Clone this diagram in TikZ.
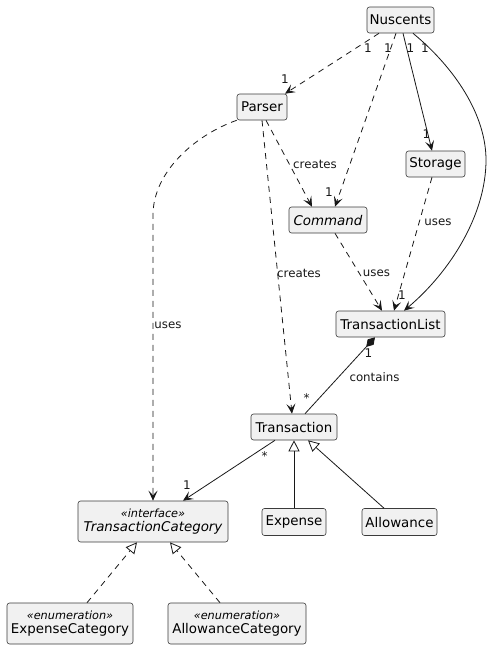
\documentclass[tikz,border=0pt]{standalone}
\usepackage{fontspec}
\setmainfont{DejaVu Sans}
\usetikzlibrary{arrows.meta}
\definecolor{boxfill}{HTML}{F1F1F1}
\definecolor{ink}{HTML}{181818}
\newcommand\sterfont{\fontsize{11.3}{12}\selectfont\itshape}
\tikzset{
  cls/.style={draw=ink!85, fill=boxfill, rounded corners=2.5pt, line width=0.6pt,
    inner sep=0pt, align=center, font=\fontsize{13.4}{15}\selectfont},
  conn/.style={draw=ink, line width=0.8pt},
  dsh/.style={conn, dash pattern=on 6pt off 5pt},
  arr/.style={-{Stealth[length=10pt,width=9pt,inset=4.5pt]}},
  inh/.style={-{Triangle[open,length=11pt,width=11pt,fill=white]}},
  comp/.style={{Diamond[length=13pt,width=8pt]}-},
  lbl/.style={inner sep=0pt, font=\fontsize{11.8}{13}\selectfont, text=ink},
  mul/.style={inner sep=0pt, font=\fontsize{12}{13}\selectfont, text=ink}
}
\begin{document}
\begin{tikzpicture}[x=1pt,y=-1pt]
\useasboundingbox (0,0) rectangle (499,649);
% classes
\node[cls, minimum width=67pt, minimum height=26pt] (nus) at (400.5,20) {Nuscents};
\node[cls, minimum width=50pt, minimum height=26pt] (parser) at (262,107) {Parser};
\node[cls, minimum width=59pt, minimum height=26pt] (storage) at (435.5,164) {Storage};
\node[cls, minimum width=78pt, minimum height=26pt] (command) at (328,220) {\itshape Command};
\node[cls, minimum width=109pt, minimum height=26pt] (tlist) at (390.5,324) {TransactionList};
\node[cls, minimum width=86pt, minimum height=26pt] (trans) at (294,427) {Transaction};
\node[cls, minimum width=150pt, minimum height=41pt] (tcat) at (153,521.5)
  {{\sterfont «interface»}\\[-1pt]\itshape TransactionCategory};
\node[cls, minimum width=64pt, minimum height=27pt] (expense) at (294,522) {Expense};
\node[cls, minimum width=75pt, minimum height=27pt] (allow) at (399.5,522) {Allowance};
\node[cls, minimum width=126pt, minimum height=41pt] (ecat) at (70,623.5)
  {{\sterfont «enumeration»}\\[-1pt]ExpenseCategory};
\node[cls, minimum width=138pt, minimum height=41pt] (acat) at (237,623.5)
  {{\sterfont «enumeration»}\\[-1pt]AllowanceCategory};
\coordinate (bend) at (486,160);
\coordinate (pbend) at (153,215);
% connectors
\draw[dsh, arr] ([xshift=-21.5pt]nus.south) -- ([xshift=23pt]parser.north);
\draw[dsh, arr] ([xshift=-4.5pt]nus.south) -- ([xshift=7pt]command.north);
\draw[conn, arr] ([xshift=2.5pt]nus.south) -- ([xshift=-3.5pt]storage.north);
\draw[conn, arr] ([xshift=12.5pt]nus.south) .. controls (455,68) and (486,115) .. (bend)
   .. controls (486,215) and (450,272) .. ([xshift=13.5pt]tlist.north);
\draw[dsh, arr] ([xshift=4pt]parser.south) -- ([xshift=-16pt]command.north);
\draw[dsh, arr] (parser.south) -- ([xshift=-2pt]trans.north);
\draw[dsh, arr] (parser.south west) .. controls (195,135) and (153,172) .. (pbend) -- (tcat.north);
\draw[dsh, arr] ([xshift=-3.5pt]storage.south) -- ([xshift=3.5pt]tlist.north);
\draw[dsh, arr] ([xshift=7pt]command.south) -- ([xshift=-8.5pt]tlist.north);
\draw[conn, comp] ([xshift=-15.5pt]tlist.south) -- ([xshift=11pt]trans.north);
\draw[conn, arr] ([xshift=-19pt]trans.south) -- ([xshift=30pt]tcat.north);
\draw[conn, inh] (expense.north) -- (trans.south);
\draw[conn, inh] ([xshift=-15.5pt]allow.north) -- ([xshift=14pt]trans.south);
\draw[dsh, inh] ([xshift=17pt]ecat.north) -- ([xshift=-16pt]tcat.south);
\draw[dsh, inh] ([xshift=-17pt]acat.north) -- ([xshift=17pt]tcat.south);
% labels
\node[mul] (m1) at (368,48) {1};
\node[mul] (m2) at (285,79) {1};
\node[mul] (m3) at (388,48) {1};
\node[mul] (m4) at (329,192) {1};
\node[mul] (m5) at (410.5,48) {1};
\node[mul] (m6) at (426.5,134) {1};
\node[mul] (m7) at (425,48) {1};
\node[mul] (m8) at (402,295) {1};
\node[mul] (m9) at (368.5,353) {1};
\node[mul] (m10) at (306.5,398) {*};
\node[mul] (m11) at (264.5,456) {*};
\node[mul] (m12) at (187,485) {1};
\node[lbl] (c1) at (315,164) {creates};
\node[lbl] (c2) at (299,273) {creates};
\node[lbl] (u1) at (376.5,273) {uses};
\node[lbl] (u2) at (438,222) {uses};
\node[lbl] (u3) at (168,325) {uses};
\node[lbl] (ct) at (374.5,377) {contains};
\end{tikzpicture}
\end{document}
